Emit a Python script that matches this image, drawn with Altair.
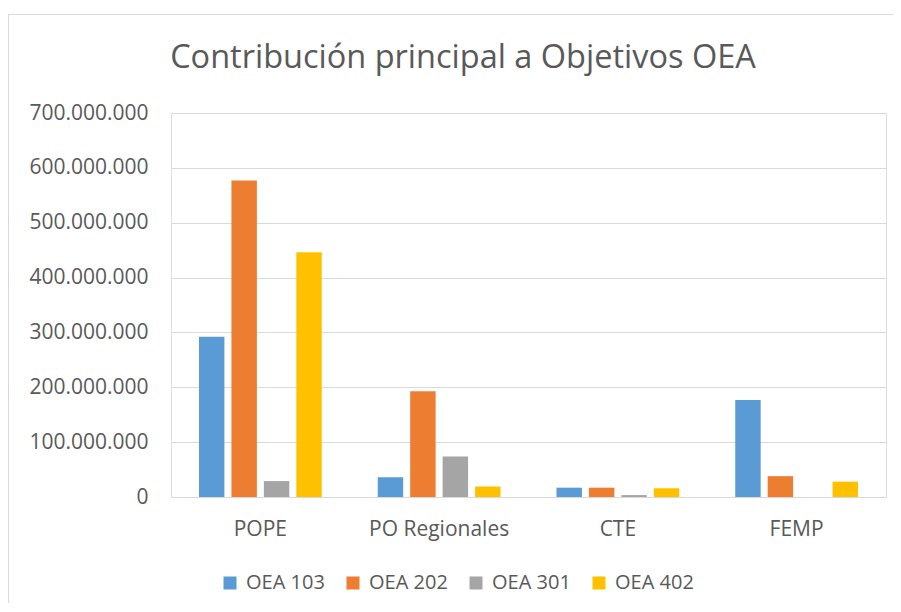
import altair as alt
import pandas as pd

categories = ["POPE", "PO Regionales", "CTE", "FEMP"]
series = ["OEA 103", "OEA 202", "OEA 301", "OEA 402"]
oea_103 = [292e6, 36e6, 17e6, 177e6]
oea_202 = [577e6, 193e6, 17e6, 38e6]
oea_301 = [29e6, 74e6, 3.5e6, 0]
oea_402 = [446e6, 19e6, 16e6, 28e6]
colors = ["#5B9BD5", "#ED7D31", "#A5A5A5", "#FFC000"]
y_ticks = [0, 100e6, 200e6, 300e6, 400e6, 500e6, 600e6, 700e6]
title_text = "Contribución principal a Objetivos OEA"

rows = []
for s, vals in zip(series, [oea_103, oea_202, oea_301, oea_402]):
    for c, v in zip(categories, vals):
        rows.append({"Programa": c, "Objetivo": s, "Valor": v})
df = pd.DataFrame(rows)

FONT = "Open Sans"
GREY = "#595959"
LIGHT = "#D9D9D9"

single = pd.DataFrame({"a": [0]})

border = alt.Chart(single).mark_rect(
    fillOpacity=0, stroke=LIGHT, strokeWidth=1
).encode(
    x=alt.value(-162.5), x2=alt.value(760), y=alt.value(-98.5), y2=alt.value(600)
)

title = alt.Chart(single).mark_text(
    font=FONT, fontSize=32.5, color=GREY, align="center", baseline="alphabetic"
).encode(
    x=alt.value(292), y=alt.value(-45.5), text=alt.value(title_text)
)

bars = alt.Chart(df).mark_bar().encode(
    x=alt.X(
        "Programa:N", sort=categories,
        scale=alt.Scale(paddingInner=0.274, paddingOuter=0.137),
        axis=alt.Axis(title=None, labelAngle=0, labelFontSize=21, labelColor=GREY,
                      labelFont=FONT, ticks=False, domainColor=LIGHT, labelPadding=21),
    ),
    xOffset=alt.XOffset("Objetivo:N", sort=series,
                        scale=alt.Scale(paddingInner=0.216, paddingOuter=0.108)),
    y=alt.Y(
        "Valor:Q", scale=alt.Scale(domain=[0, 700e6]),
        axis=alt.Axis(title=None, values=y_ticks,
                      labelExpr="replace(replace(format(datum.value, ','), ',', '.'), ',', '.')",
                      grid=True, gridColor=LIGHT, domain=False, ticks=False,
                      labelPadding=23, labelFontSize=21, labelColor=GREY, labelFont=FONT),
    ),
    color=alt.Color(
        "Objetivo:N", sort=series,
        scale=alt.Scale(domain=series, range=colors),
        legend=alt.Legend(title=None, orient="none", legendX=49, legendY=460,
                          direction="horizontal", columns=4, symbolType="square",
                          symbolSize=169, symbolStrokeWidth=0, labelFontSize=20,
                          labelColor=GREY, labelFont=FONT, columnPadding=18,
                          labelOffset=6, padding=0),
    ),
)

chart = alt.layer(border, title, bars).properties(
    width=715, height=384,
    padding={"left": 163, "top": 105, "right": 7, "bottom": 106},
    autosize=alt.AutoSizeParams(type="none"),
).configure_view(stroke="transparent", strokeWidth=0).configure(background="white")

chart.save("out.html", embed_options={"renderer": "svg", "actions": False})
